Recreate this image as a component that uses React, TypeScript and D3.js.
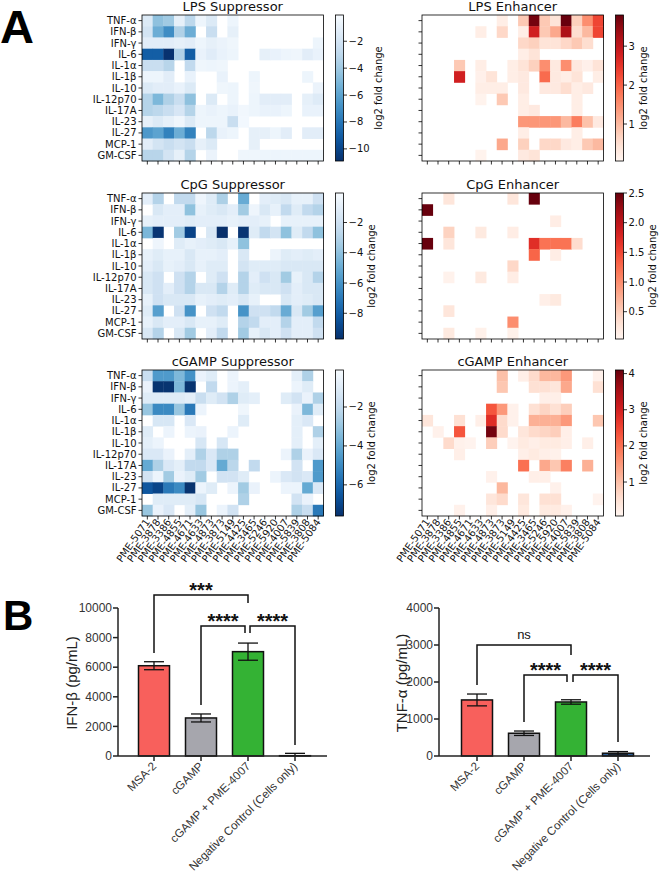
import React from "react";
import * as d3 from "d3";

const cytokines = ["TNF-α","IFN-β","IFN-γ","IL-6","IL-1α","IL-1β","IL-10","IL-12p70","IL-17A","IL-23","IL-27","MCP-1","GM-CSF"];
const compounds = ["PME-5071","PME-3878","PME-3386","PME-4855","PME-4671","PME-4633","PME-4873","PME-3873","PME-5149","PME-4425","PME-3465","PME-5246","PME-5920","PME-4007","PME-5839","PME-3808","PME-5084"];

// 0 = no significant change (blank cell)
const lpsSup = [
  [-1.5,-4.5,-4,-1,-3,-0.6,-1.5,0,-0.6,0,0,0,0,0,0,0,0],
  [-2,-5.5,-7,-3.5,-5.5,0,-2.5,0,-1,0,0,0,0,0,0,0,0],
  [-1.2,-1.2,-1.2,-1,-1.2,-0.6,-1,-0.7,-0.5,0,0,0,0,0,0,0,-0.6],
  [-9,-9,-10.8,-3.5,-9,-0.8,-1.3,-0.8,-0.6,0,0,-1,-0.8,-0.6,-0.5,-1.2,-0.8],
  [-2.5,-2.5,-3.2,0,-2.8,-0.5,-0.6,-0.5,0,0,0,0,0,0,0,0,0],
  [-0.6,-0.6,-1.2,0,-0.8,0,0,-0.8,0,0,-0.6,0,0,0,0,-0.6,0],
  [-1.5,-1.2,-1.2,-0.8,-1.5,0,0,-0.5,-0.6,0,-0.5,0,0,0,0,0,-0.7],
  [-3.3,-5,-3.5,-2.5,-4.5,0,-1.5,0,-0.6,0,-0.6,-1.2,-1.2,-1.2,0,-1,-1.4],
  [-3.3,-3,-2.5,-1.8,-3.3,-0.6,-0.8,-0.6,-0.8,-0.4,-0.6,-0.8,-0.8,-0.6,0,-0.8,-0.8],
  [-1,-1.5,-1,-0.5,-1.5,-0.6,-0.6,-0.6,-2.5,-0.3,0,0,0,0,0,0,0],
  [-6.5,-6,-7.5,-5.5,-7.5,0,-3,-0.8,-0.6,0,-1,-1,-0.6,-1.2,0,-1.2,-1.2],
  [-1.2,-2,-2.5,-2,-2.5,-1,-1.5,0,0,0,-1,0,0,0,0,0,0],
  [-3.2,-3.2,-2,-1,-3.3,0,-0.7,0,0,-0.5,-0.5,-0.6,-0.6,-0.6,-0.6,-0.6,-0.6],
];
const lpsEnh = [
  [0,0,0,0,0,0,0,0.2,0,0.8,3.7,0.8,0.4,3.8,0.7,1.5,2.3],
  [0,0,0,0,0,0.2,0,0.6,0,0.2,2.8,0.8,1.2,3.2,0.5,1.0,2.3],
  [0,0,0,0,0,0,0,0,0,0.6,0.7,0.4,0.4,0.6,0.8,0.5,0],
  [0,0,0,0,0,0,0,0,0,0.2,0.4,0,0,0,0,0,0],
  [0,0,0,0.8,0,0.2,0,0,0.2,0.4,0.7,1.5,0.3,1.5,0.3,0.15,0.4],
  [0,0,0,2.8,0,0.15,0.4,0,0.2,0.3,0,1.9,0.3,0.2,0.4,0,0.2],
  [0,0,0,0,0,0.2,0.2,0.2,0,0.3,0,0.3,0.3,0.5,0.2,0.3,0],
  [0,0,0,0,0,0.1,0,0.8,0,0.2,0,0,0,0,0.2,0,0],
  [0,0,0,0,0,0,0,0,0,0.2,0.3,0,0,0,0.2,0,0],
  [0,0,0,0,0,0,0,0,0,1.4,1.4,1.4,1.4,1.0,1.7,0.9,0.3],
  [0,0,0,0,0,0,0,0,0,0.2,0,0,0,0,0.2,0,0],
  [0,0,0,0,0,0,0,1.2,0,0.7,0,0.6,0.6,0.3,0.2,0.8,1.0],
  [0,0,0,0,0,0.1,0,0,0,0.3,0.4,0,0,0,0,0,0],
];
const cpgSup = [
  [-1,-3,0,-2.5,-2.5,-0.5,-1.2,-3.2,0,-5,0,-1,-1.2,-1.5,-0.8,-0.8,-2],
  [0,-1.5,-1,-1,-4,-0.8,-1.2,-1.5,-1,-3.5,-0.5,-1.5,-0.8,-2.5,-1.2,-2.5,-3],
  [-0.8,-1,-1,-1,-1.2,-1,-1,-1,-0.8,-1,-1,-0.8,0,-0.8,-0.8,-0.8,-0.8],
  [-4.5,-9.5,0,-3.5,-9,0,-1.5,-9.7,0,-9.5,-1.2,-2.5,-1.8,-4,-1.2,-2.5,-4],
  [0,-0.5,0,-1.2,-0.8,-1,-1.2,-1.5,-0.8,-4,0,0,0,0,0,0,0],
  [-0.8,-1.2,-0.8,-0.8,-1.5,-0.8,-0.8,-1,0,-1.5,0,0,-0.6,-1.2,-1,-1.2,-1],
  [-1,-1.5,-0.8,-1,-1.5,-0.8,-1.2,-1.2,0,-1.8,-1.2,-1.2,-1.2,-1.5,-1.5,-1.5,-1.5],
  [-1.5,-2,0,-2,-3,0,-1.2,-2,0,-3,-1,-2,-1.5,-3.5,-0.8,-1.5,-3],
  [-1.5,-2,-1,-2,-3,-1.5,-1.5,-3,-1.2,-3,-1.2,-1.5,-1.5,-2,-1,-1.5,-1.5],
  [-0.8,-2,-1.5,-1.5,-1.5,-0.8,-1,-1.2,-1,-1.5,-0.8,0,0,-1.5,-1,-1.2,-1.5],
  [-1.2,-5.5,0,-2,-6,0,-2,-2.5,0,-6,-2,-2,-2.5,-5,-1.5,-3.5,-5.5],
  [-0.8,-1.5,-1,-1,-1.5,-0.8,-0.8,-1.2,0,-3,-2.5,-1,-1,-3,-1,-1,-2.5],
  [-1.5,-3,0,-1.5,-3.5,0,-1,-2.5,0,-3.5,-0.8,-1.5,-1,-2,-1,-1,-2],
];
const cpgEnh = [
  [0,0,0.25,0,0,0,0,0,0.25,0,2.5,0,0,0,0,0,0],
  [2.5,0,0,0,0,0,0,0,0,0,0,0,0,0,0,0,0],
  [0,0,0,0,0,0,0,0,0,0,0,0,0.15,0,0,0,0],
  [0,0,0.45,0,0,0.2,0,0,0.15,0,0,0,0,0,0,0,0],
  [2.5,0,0.25,0,0,0,0,0,0,0,1.7,1.2,1.2,1.2,0.35,0,0],
  [0,0,0,0,0,0,0,0,0,0,1.3,0,0.15,0,0,0,0],
  [0,0,0,0,0,0,0,0,0.4,0,0,0,0,0,0,0,0],
  [0,0,0.08,0,0,0.2,0,0,0.15,0,0,0,0,0,0,0,0],
  [0,0,0,0,0,0,0,0,0,0,0,0,0,0,0,0,0],
  [0,0,0,0,0,0,0,0,0,0,0,0.12,0.2,0,0,0,0],
  [0,0,0.25,0,0,0,0,0,0,0,0,0,0,0,0,0,0],
  [0,0,0,0,0,0,0,0,1.0,0,0,0,0,0,0,0,0],
  [0,0,0.2,0,0,0.1,0,0,0.1,0,0,0,0,0,0,0,0],
];
const cgampSup = [
  [-1.8,-4.5,-4.5,-3.5,-4.8,-0.6,-1,0,-0.5,0,0,0,0,0,-0.8,-2.5,0],
  [-0.6,-7.5,-7.5,-3.5,-7.5,0,-2,0,-0.5,-0.8,0,0,0,0,-0.5,-1,0],
  [-1,-1,-1,-1,-0.8,-1.8,-1,-1.5,-2.5,-1,-0.8,0,0,-1,-1.5,-0.6,-2.5],
  [-3,-5,-5,-3,-5.5,-0.5,0,0,0,-0.4,0,0,0,0,-0.6,-3.5,-1],
  [0,-1.3,-1.3,0,-1.2,0,0,0,0,-1,0,0,0,0,-0.8,-1.2,0],
  [-1,0,-0.5,0,-0.5,-0.6,0,0,-0.5,0,0,0,0,0,-0.8,0,-2.5],
  [-0.8,-0.5,0,0,0,-1.3,0,-1.3,0,0,0,0,0,0,-0.8,0,-0.8],
  [-1.2,-1.2,-0.6,0,-0.8,-2.5,-1.2,-2.5,-2.5,0,0,0,0,-0.5,-2.5,-0.6,-1.2],
  [-4,-2.5,-1.2,-0.8,-2,-2,-1.2,-4,-2.2,0,-2,0,0,0,-1.5,0,-4.5],
  [-1.5,-0.5,-2.8,-0.6,-1,-2.8,0,-1.5,-1.5,-1,0,0,-0.5,-1.2,-1.5,-1.2,-4.5],
  [-6.5,-7,-5.5,-5,-7.5,-0.5,-1,0,-0.5,-2.8,-0.6,0,0,-0.5,-0.5,-4,-1.2],
  [0,-1,-1,-1,-1,-1.3,0,0,0,-2.5,0,0,0,0,-1.5,-0.6,0],
  [-3,-0.6,-1.2,0,-0.8,-3,0,-0.5,-1.5,0,0,0,0,0,-2.5,-1.8,-5.5],
];
const cgampEnh = [
  [0,0,0,0,0,0,0,1.0,0,0.2,0.6,1.1,1.1,1.5,0,0,0.15],
  [0,0,0,0,0,0,0,0.9,0,0,0.5,0.5,0.4,1.3,0,0,0.5],
  [0,0,0,0,0,0,0,0,0,0,0,0.2,0.2,0,0,0,0],
  [0,0,0,0,0,0,2.3,1.5,0.15,0,0.5,0.7,0.5,0.8,0,0,0],
  [0.4,0,0,0.5,0,0.2,2.8,0.6,0.15,0,1.2,1.2,1.2,1.5,0,0,0.9],
  [0,0.15,0,2.3,0,0,4.0,0.6,0,0.4,0.6,0.7,0.8,0.2,0,0,0],
  [0,0,0.6,0.15,0.1,0,0.8,0,0.1,0.3,0.2,0.3,0.3,0.2,0,0.2,0],
  [0,0,0,0.2,0,0,0,0,0,0.2,0.3,0.2,0.15,0,0,0,0],
  [0,0,0,0,0,0,0,0,0,2.0,0,1.3,0.9,1.8,0,1.2,0],
  [0,0,0,0,0,0,0.15,0,0,0,0.2,0.2,0,0,0,0,0],
  [0,0,0,0,0,0,0,1.1,0,0,0,0,0.15,0,0,0,0],
  [0,0,0,0,0,0,0.4,0.6,0,0.4,0,0.5,0.5,0,0,0,0.1],
  [0,0,0,0.15,0,0,0.2,0,0,0.3,0,0.3,0.3,0.15,0,0,0],
];

const lpsSupTicks = [-10, -8, -6, -4, -2];
const lpsEnhTicks = [1, 2, 3];
const cpgSupTicks = [-8, -6, -4, -2];
const cpgEnhTicks = [0.5, 1.0, 1.5, 2.0, 2.5];
const cgampSupTicks = [-6, -4, -2];
const cgampEnhTicks = [1, 2, 3, 4];

const barGroups = ["MSA-2", "cGAMP", "cGAMP + PME-4007", "Negative Control (Cells only)"];
const barColors = ["#f8605c", "#a6a6ad", "#34b234", "#2d5f9a"];
const ifnbMean = [6100, 2570, 7050, 20];
const ifnbErr = [270, 270, 580, 160];
const tnfaMean = [1515, 615, 1460, 75];
const tnfaErr = [160, 60, 60, 45];
const ifnbTicks = [0, 2000, 4000, 6000, 8000, 10000];
const tnfaTicks = [0, 1000, 2000, 3000, 4000];
const ifnbSig = [
  { a: 0, b: 2, top: 10880, endA: 6960, endB: 10340, label: "***", offA: 0, offB: 0 },
  { a: 1, b: 2, top: 8780, endA: 3450, endB: 8310, label: "****", offA: 0, offB: -3 },
  { a: 2, b: 3, top: 8780, endA: 8310, endB: 740, label: "****", offA: 2, offB: 0 },
];
const tnfaSig = [
  { a: 0, b: 2, top: 3000, endA: 1920, endB: 2730, label: "ns", offA: 0, offB: 0 },
  { a: 1, b: 2, top: 2190, endA: 920, endB: 2000, label: "****", offA: 0, offB: -4 },
  { a: 2, b: 3, top: 2190, endA: 2000, endB: 380, label: "****", offA: 2, offB: 0 },
];

const W = 181.5, H = 146;
const HM_FONT = "DejaVu Sans";
const B_FONT = "Liberation Sans, Arial, sans-serif";

function charW(s: string) {
  let w = 0;
  for (const c of s) w += c === "\u2212" ? 8.38 : c === "." ? 3.18 : 6.36;
  return w;
}

function Heatmap({ p, x0, y0, showY, showX, id }: any) {
  const xs = d3.scaleBand<string>().domain(compounds).range([x0, x0 + W]);
  const ys = d3.scaleBand<string>().domain(cytokines).range([y0, y0 + H]);
  const interp = p.kind === "sup" ? (t: number) => d3.interpolateBlues(1 - t) : d3.interpolateReds;
  const color = d3.scaleSequential(interp).domain(p.domain);
  const cbX = x0 + W + 12, cbW = 8;
  const cbY = d3.scaleLinear().domain(p.domain).range([y0 + H, y0]);
  const fmt = p.fmt || d3.format("d");
  const labels = p.ticks.map((t: number) => fmt(t));
  const maxW = Math.max(...labels.map(charW));
  const gid = "grad" + id;
  return (
    <g>
      <defs>
        <linearGradient id={gid} x1="0" y1="1" x2="0" y2="0">
          {d3.range(0, 41).map((i) => {
            const t = i / 40;
            const v = p.domain[0] + t * (p.domain[1] - p.domain[0]);
            return <stop key={i} offset={t} stopColor={color(v)} />;
          })}
        </linearGradient>
      </defs>
      <text x={x0 + W / 2} y={y0 - 4} textAnchor="middle" fontSize={13} fontFamily={HM_FONT} fill="#111">{p.title}</text>
      {p.data.map((row: number[], ri: number) =>
        row.map((v: number, ci: number) =>
          v === 0 ? null : (
            <rect key={ri + "-" + ci} x={xs(compounds[ci])} y={ys(cytokines[ri])}
              width={xs.bandwidth() + 0.4} height={ys.bandwidth() + 0.4} fill={color(v)} />
          )
        )
      )}
      <rect x={x0} y={y0} width={W} height={H} fill="none" stroke="#000" strokeWidth={0.8} />
      {cytokines.map((c) => {
        const yy = ys(c)! + ys.bandwidth() / 2;
        return (
          <g key={c}>
            <line x1={x0 - 3.5} x2={x0} y1={yy} y2={yy} stroke="#000" strokeWidth={0.8} />
            {showY && (
              <text x={x0 - 5.5} y={yy} dy="0.35em" textAnchor="end" fontSize={10} fontFamily={HM_FONT} fill="#111">{c}</text>
            )}
          </g>
        );
      })}
      {compounds.map((c) => {
        const xx = xs(c)! + xs.bandwidth() / 2;
        return (
          <g key={c}>
            <line x1={xx} x2={xx} y1={y0 + H} y2={y0 + H + 3.5} stroke="#000" strokeWidth={0.8} />
            {showX && (
              <text transform={`translate(${xx + 3},${y0 + H + 6}) rotate(-55)`} textAnchor="end"
                fontSize={10} fontFamily={HM_FONT} fill="#111">{c}</text>
            )}
          </g>
        );
      })}
      <rect x={cbX} y={y0} width={cbW} height={H} fill={`url(#${gid})`} stroke="#000" strokeWidth={0.8} />
      {p.ticks.map((t: number, i: number) => (
        <g key={t}>
          <line x1={cbX + cbW} x2={cbX + cbW + 3.5} y1={cbY(t)} y2={cbY(t)} stroke="#000" strokeWidth={0.8} />
          <text x={cbX + cbW + 5} y={cbY(t)} dy="0.35em" fontSize={10} fontFamily={HM_FONT} fill="#111">{labels[i]}</text>
        </g>
      ))}
      <text transform={`translate(${cbX + cbW + 5 + maxW + 12},${y0 + H / 2}) rotate(-90)`} textAnchor="middle"
        fontSize={10} fontFamily={HM_FONT} fill="#111">log2 fold change</text>
    </g>
  );
}

function BarChart({ axisX, axisEnd, r0, r1, maxV, ticks, means, errs, sig, ylabel, ylabelX }: any) {
  const y = d3.scaleLinear().domain([0, maxV]).range([756, 608]);
  const x = d3.scaleBand<string>().domain(barGroups).range([r0, r1]);
  const cx = (i: number) => x(barGroups[i])! + x.bandwidth() / 2;
  const bw = 31, cap = 10;
  const ink = "#222";
  return (
    <g fontFamily={B_FONT}>
      {means.map((m: number, i: number) => (
        <rect key={i} x={cx(i) - bw / 2} y={y(m)} width={bw} height={y(0) - y(m)} fill={barColors[i]} stroke="#111" strokeWidth={1.5} />
      ))}
      {means.map((m: number, i: number) => (
        <g key={"e" + i} stroke="#111" strokeWidth={1.3}>
          <line x1={cx(i)} x2={cx(i)} y1={y(m + errs[i])} y2={y(Math.max(0, m - errs[i]))} />
          <line x1={cx(i) - cap} x2={cx(i) + cap} y1={y(m + errs[i])} y2={y(m + errs[i])} />
          {m - errs[i] > 0 && <line x1={cx(i) - cap} x2={cx(i) + cap} y1={y(m - errs[i])} y2={y(m - errs[i])} />}
        </g>
      ))}
      <line x1={axisX} x2={axisX} y1={y(maxV)} y2={y(0)} stroke={ink} strokeWidth={1.5} />
      <line x1={axisX} x2={axisEnd} y1={y(0)} y2={y(0)} stroke={ink} strokeWidth={1.5} />
      {ticks.map((t: number) => (
        <g key={t}>
          <line x1={axisX - 5} x2={axisX} y1={y(t)} y2={y(t)} stroke={ink} strokeWidth={1.5} />
          <text x={axisX - 6} y={y(t)} dy="0.35em" textAnchor="end" fontSize={12} fill="#333">{t}</text>
        </g>
      ))}
      {barGroups.map((g, i) => (
        <g key={g}>
          <line x1={cx(i)} x2={cx(i)} y1={y(0)} y2={y(0) + 5} stroke={ink} strokeWidth={1.5} />
          <text transform={`translate(${cx(i) + 3},${y(0) + 11}) rotate(-45)`} textAnchor="end" fontSize={11.6} fill="#333">{g}</text>
        </g>
      ))}
      <text transform={`translate(${ylabelX},${683}) rotate(-90)`} textAnchor="middle" fontSize={15} fill={ink}>{ylabel}</text>
      {sig.map((s: any, i: number) => {
        const xa = cx(s.a) + s.offA, xb = cx(s.b) + s.offB;
        const isNs = s.label === "ns";
        return (
          <g key={i}>
            <path d={`M${xa},${y(s.endA)}V${y(s.top)}H${xb}V${y(s.endB)}`} fill="none" stroke="#111" strokeWidth={1.5} />
            <text x={(xa + xb) / 2} y={isNs ? y(s.top) - 6 : y(s.top) + 2} textAnchor="middle"
              fontSize={isNs ? 13 : 20} fontWeight={isNs ? "normal" : "bold"} fill="#111">{s.label}</text>
          </g>
        );
      })}
    </g>
  );
}

export default function App() {
  const leftX = 142, rightX = 422;
  const rowY = [15, 193, 370];
  const panels = [
    { title: "LPS Suppressor", data: lpsSup, domain: [-10.9, -0.05], ticks: lpsSupTicks, kind: "sup" },
    { title: "LPS Enhancer", data: lpsEnh, domain: [0.05, 3.8], ticks: lpsEnhTicks, kind: "enh" },
    { title: "CpG Suppressor", data: cpgSup, domain: [-9.7, -0.05], ticks: cpgSupTicks, kind: "sup" },
    { title: "CpG Enhancer", data: cpgEnh, domain: [0.04, 2.5], ticks: cpgEnhTicks, kind: "enh", fmt: d3.format(".1f") },
    { title: "cGAMP Suppressor", data: cgampSup, domain: [-7.6, -0.1], ticks: cgampSupTicks, kind: "sup" },
    { title: "cGAMP Enhancer", data: cgampEnh, domain: [0.06, 4.1], ticks: cgampEnhTicks, kind: "enh" },
  ];
  return (
    <svg width={661} height={875} style={{ position: "absolute", left: 0, top: 0, background: "#fff" }}>
      <rect width={661} height={875} fill="#fff" />
      <text x={0} y={42.5} fontSize={47} fontWeight="bold" fontFamily={B_FONT} textLength={34} lengthAdjust="spacingAndGlyphs">A</text>
      <text x={3} y={630} fontSize={42} fontWeight="bold" fontFamily={B_FONT}>B</text>
      {panels.map((p, i) => (
        <Heatmap key={i} id={i} p={p} x0={i % 2 === 0 ? leftX : rightX} y0={rowY[Math.floor(i / 2)]}
          showY={i % 2 === 0} showX={i >= 4} />
      ))}
      <BarChart axisX={118} axisEnd={327} r0={130.5} r1={318.5} maxV={10000} ticks={ifnbTicks}
        means={ifnbMean} errs={ifnbErr} sig={ifnbSig} ylabel="IFN-β (pg/mL)" ylabelX={77} />
      <BarChart axisX={439} axisEnd={650} r0={453.5} r1={641.5} maxV={4000} ticks={tnfaTicks}
        means={tnfaMean} errs={tnfaErr} sig={tnfaSig} ylabel="TNF-α (pg/mL)" ylabelX={407} />
    </svg>
  );
}
